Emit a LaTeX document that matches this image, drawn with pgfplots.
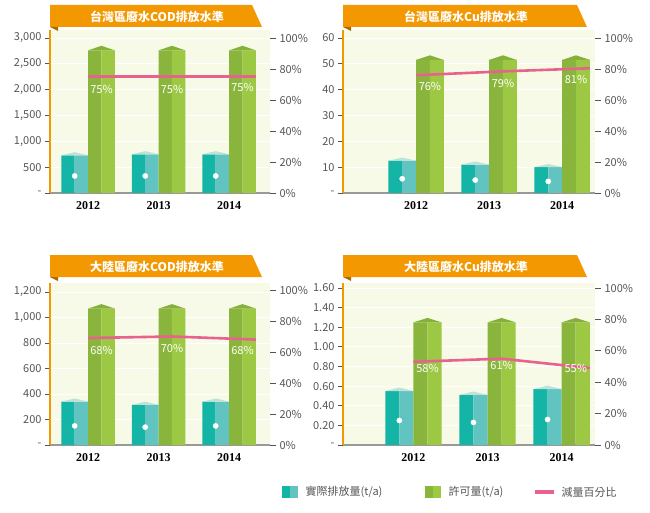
\documentclass[border=0pt]{standalone}
\usepackage{pgfplots}
\pgfplotsset{compat=1.18}
\usepackage{fontspec}
\setmainfont{Noto Sans CJK TC}
\newfontfamily\yearfont{Liberation Serif}
\definecolor{bgc}{HTML}{F8FAE8}
\definecolor{orng}{HTML}{F39800}
\definecolor{tealA}{HTML}{14B4A6}
\definecolor{tealB}{HTML}{62C4C0}
\definecolor{tealC}{HTML}{BCE2DA}
\definecolor{grnA}{HTML}{8AB53C}
\definecolor{grnB}{HTML}{9DC844}
\definecolor{grnC}{HTML}{85B03A}
\definecolor{pnk}{HTML}{E8628E}
\definecolor{txt}{HTML}{555555}
\tikzset{lab/.style={font=\fontsize{11}{13}\selectfont, text=white}}
\pgfplotsset{
 base/.style={scale only axis, anchor=south west, axis background/.style={fill=bgc},
  ymajorgrids, grid style={white, line width=1pt},
  axis x line*=bottom, axis y line*=left,
  x axis line style={draw=gray!80, line width=1.2pt,-},
  y axis line style={draw=orng, line width=1.6pt,-},
  xtick={0,1,2}, xticklabels={2012,2013,2014},
  x tick label style={font=\yearfont\bfseries\fontsize{12}{14}\selectfont, text=black},
  major x tick style={draw=none},
  tick align=outside, major tick length=5pt,
  y tick style={draw=txt, line width=0.8pt},
  y tick label style={font=\fontsize{11}{13}\selectfont, text=txt},
  /pgf/number format/assume math mode=true, clip=false},
 rbase/.style={scale only axis, anchor=south west, axis x line=none, axis y line*=right,
  y axis line style={draw=none}, ymin=0, ytick={0,20,...,100},
  yticklabels={0\%,20\%,40\%,60\%,80\%,100\%},
  tick align=outside, major tick length=6pt,
  y tick style={draw=txt, line width=0.8pt},
  y tick label style={font=\fontsize{11}{13}\selectfont, text=txt}, clip=false},
 b1/.style={ybar, bar width=0.19, bar shift=-0.285, fill=tealA, draw=none},
 b2/.style={ybar, bar width=0.19, bar shift=-0.095, fill=tealB, draw=none},
 b3/.style={ybar, bar width=0.19, bar shift=0.095, fill=grnA, draw=none},
 b4/.style={ybar, bar width=0.19, bar shift=0.285, fill=grnB, draw=none},
 pl/.style={pnk, line width=2.6pt},
 drop/.style={only marks, mark=*, mark size=2.6pt, white}
}
\newcommand{\banner}[3]{%
 \fill[orng] (#1pt,#2pt) -- (#1pt,#2pt-22pt) -- (#1pt+212pt+#3pt,#2pt-22pt) -- (#1pt+202pt+#3pt,#2pt) -- cycle;
 \fill[orng!70!black] (#1pt,#2pt-22pt) -- (#1pt+8pt,#2pt-22pt) -- (#1pt+8pt,#2pt-26pt) -- cycle;}
\begin{document}
\begin{tikzpicture}
\useasboundingbox (0,0) rectangle (650pt,512pt);
% ---------- Panel 1
\begin{axis}[base, at={(50pt,319pt)}, width=220pt, height=163pt, xmin=-0.54, xmax=2.58,
 ymin=0, ymax=3155, ytick={0,500,...,3000}, yticklabels={-,500,{1,000},{1,500},{2,000},{2,500},{3,000}}]
\addplot[b1] coordinates {(0,730)(1,750)(2,750)};
\addplot[b2] coordinates {(0,730)(1,750)(2,750)};
\addplot[b3] coordinates {(0,2760)(1,2760)(2,2760)};
\addplot[b4] coordinates {(0,2760)(1,2760)(2,2760)};
\addplot[fill=tealC,draw=none] coordinates {(-0.38,730)(-0.19,790)(0,730)};
\addplot[fill=tealC,draw=none] coordinates {(0.62,750)(0.81,810)(1,750)};
\addplot[fill=tealC,draw=none] coordinates {(1.62,750)(1.81,810)(2,750)};
\addplot[fill=grnC,draw=none] coordinates {(0,2760)(0.19,2850)(0.38,2760)};
\addplot[fill=grnC,draw=none] coordinates {(1,2760)(1.19,2850)(1.38,2760)};
\addplot[fill=grnC,draw=none] coordinates {(2,2760)(2.19,2850)(2.38,2760)};
\addplot[drop] coordinates {(-0.19,330)(0.81,330)(1.81,330)};
\end{axis}
\begin{axis}[rbase, at={(50pt,319pt)}, width=220pt, height=163pt, xmin=-0.54, xmax=2.58, ymax=105.2]
\addplot[pl] coordinates {(0,75)(1.19,75)(2.38,75)};
\node[lab] at (axis cs:0.19,67) {75\%};
\node[lab] at (axis cs:1.19,67) {75\%};
\node[lab] at (axis cs:2.19,68) {75\%};
\end{axis}
% ---------- Panel 2
\begin{axis}[base, at={(343pt,319pt)}, width=252pt, height=163pt, xmin=-1.0, xmax=2.45,
 ymin=0, ymax=63.1, ytick={0,10,...,60}, yticklabels={-,10,20,30,40,50,60}]
\addplot[b1] coordinates {(0,12.5)(1,11)(2,10)};
\addplot[b2] coordinates {(0,12.5)(1,11)(2,10)};
\addplot[b3] coordinates {(0,51.5)(1,51.5)(2,51.5)};
\addplot[b4] coordinates {(0,51.5)(1,51.5)(2,51.5)};
\addplot[fill=tealC,draw=none] coordinates {(-0.38,12.5)(-0.19,13.7)(0,12.5)};
\addplot[fill=tealC,draw=none] coordinates {(0.62,11)(0.81,12.2)(1,11)};
\addplot[fill=tealC,draw=none] coordinates {(1.62,10)(1.81,11.2)(2,10)};
\addplot[fill=grnC,draw=none] coordinates {(0,51.5)(0.19,53.3)(0.38,51.5)};
\addplot[fill=grnC,draw=none] coordinates {(1,51.5)(1.19,53.3)(1.38,51.5)};
\addplot[fill=grnC,draw=none] coordinates {(2,51.5)(2.19,53.3)(2.38,51.5)};
\addplot[drop] coordinates {(-0.19,5.5)(0.81,5)(1.81,4.5)};
\end{axis}
\begin{axis}[rbase, at={(343pt,319pt)}, width=252pt, height=163pt, xmin=-1.0, xmax=2.45, ymax=105.2]
\addplot[pl] coordinates {(0,76)(1.19,78.5)(2.38,80.5)};
\node[lab] at (axis cs:0.19,68.5) {76\%};
\node[lab] at (axis cs:1.19,71) {79\%};
\node[lab] at (axis cs:2.19,73) {81\%};
\end{axis}
% ---------- Panel 3
\begin{axis}[base, at={(50pt,67pt)}, width=220pt, height=162pt, xmin=-0.54, xmax=2.58,
 ymin=0, ymax=1270.6, ytick={0,200,...,1200}, yticklabels={-,200,400,600,800,{1,000},{1,200}}]
\addplot[b1] coordinates {(0,340)(1,315)(2,340)};
\addplot[b2] coordinates {(0,340)(1,315)(2,340)};
\addplot[b3] coordinates {(0,1070)(1,1070)(2,1070)};
\addplot[b4] coordinates {(0,1070)(1,1070)(2,1070)};
\addplot[fill=tealC,draw=none] coordinates {(-0.38,340)(-0.19,365)(0,340)};
\addplot[fill=tealC,draw=none] coordinates {(0.62,315)(0.81,340)(1,315)};
\addplot[fill=tealC,draw=none] coordinates {(1.62,340)(1.81,365)(2,340)};
\addplot[fill=grnC,draw=none] coordinates {(0,1070)(0.19,1105)(0.38,1070)};
\addplot[fill=grnC,draw=none] coordinates {(1,1070)(1.19,1105)(1.38,1070)};
\addplot[fill=grnC,draw=none] coordinates {(2,1070)(2.19,1105)(2.38,1070)};
\addplot[drop] coordinates {(-0.19,150)(0.81,140)(1.81,150)};
\end{axis}
\begin{axis}[rbase, at={(50pt,67pt)}, width=220pt, height=162pt, xmin=-0.54, xmax=2.58, ymax=104.5]
\addplot[pl] coordinates {(0,69)(1.19,70)(2.38,68)};
\node[lab] at (axis cs:0.19,61) {68\%};
\node[lab] at (axis cs:1.19,62) {70\%};
\node[lab] at (axis cs:2.19,61) {68\%};
\end{axis}
% ---------- Panel 4
\begin{axis}[base, at={(343pt,67pt)}, width=252pt, height=162pt, xmin=-0.95, xmax=2.45,
 ymin=0, ymax=1.651, ytick={0,0.2,...,1.6}, yticklabels={-,0.20,0.40,0.60,0.80,1.00,1.20,1.40,1.60}]
\addplot[b1] coordinates {(0,0.55)(1,0.51)(2,0.57)};
\addplot[b2] coordinates {(0,0.55)(1,0.51)(2,0.57)};
\addplot[b3] coordinates {(0,1.25)(1,1.25)(2,1.25)};
\addplot[b4] coordinates {(0,1.25)(1,1.25)(2,1.25)};
\addplot[fill=tealC,draw=none] coordinates {(-0.38,0.55)(-0.19,0.585)(0,0.55)};
\addplot[fill=tealC,draw=none] coordinates {(0.62,0.51)(0.81,0.545)(1,0.51)};
\addplot[fill=tealC,draw=none] coordinates {(1.62,0.57)(1.81,0.605)(2,0.57)};
\addplot[fill=grnC,draw=none] coordinates {(0,1.25)(0.19,1.295)(0.38,1.25)};
\addplot[fill=grnC,draw=none] coordinates {(1,1.25)(1.19,1.295)(1.38,1.25)};
\addplot[fill=grnC,draw=none] coordinates {(2,1.25)(2.19,1.295)(2.38,1.25)};
\addplot[drop] coordinates {(-0.19,0.25)(0.81,0.23)(1.81,0.26)};
\end{axis}
\begin{axis}[rbase, at={(343pt,67pt)}, width=252pt, height=162pt, xmin=-0.95, xmax=2.45, ymax=103.2]
\addplot[pl] coordinates {(0,53)(1.19,55)(2.38,49)};
\node[lab] at (axis cs:0.19,49) {58\%};
\node[lab] at (axis cs:1.19,50.5) {61\%};
\node[lab] at (axis cs:2.19,49) {55\%};
\end{axis}
% ---------- banners
\banner{50}{507}{0}
\node[text=white, font=\bfseries\fontsize{12}{14}\selectfont] at (157pt,495pt) {台灣區廢水COD排放水準};
\banner{343}{507}{32}
\node[text=white, font=\bfseries\fontsize{12}{14}\selectfont] at (466pt,495pt) {台灣區廢水Cu排放水準};
\banner{50}{257}{0}
\node[text=white, font=\bfseries\fontsize{12}{14}\selectfont] at (157pt,245pt) {大陸區廢水COD排放水準};
\banner{343}{257}{32}
\node[text=white, font=\bfseries\fontsize{12}{14}\selectfont] at (466pt,245pt) {大陸區廢水Cu排放水準};
% ---------- legend
\fill[tealA] (282pt,14pt) rectangle (290pt,26pt);
\fill[tealB] (290pt,14pt) rectangle (298pt,26pt);
\node[anchor=west, text=txt, font=\fontsize{11}{13}\selectfont] at (302pt,20pt) {實際排放量(t/a)};
\fill[grnA] (425pt,14pt) rectangle (433pt,26pt);
\fill[grnB] (433pt,14pt) rectangle (441pt,26pt);
\node[anchor=west, text=txt, font=\fontsize{11}{13}\selectfont] at (445pt,20pt) {許可量(t/a)};
\fill[pnk] (535pt,18pt) rectangle (554pt,22pt);
\node[anchor=west, text=txt, font=\fontsize{11}{13}\selectfont] at (558pt,20pt) {減量百分比};
\end{tikzpicture}
\end{document}
